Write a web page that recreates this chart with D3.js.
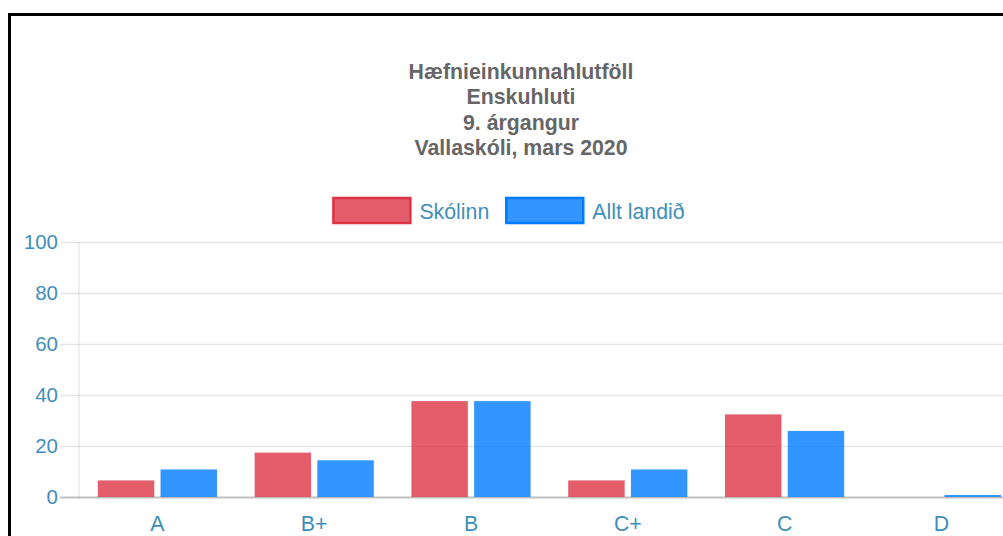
<!DOCTYPE html>
<html>
<head>
<meta charset="utf-8">
<script src="https://cdn.jsdelivr.net/npm/d3@7"></script>
<style>
  html, body { margin: 0; padding: 0; background: #fff; overflow: hidden; }
  svg { display: block; font-family: "Liberation Sans", Arial, Helvetica, sans-serif; }
</style>
</head>
<body>
<svg id="chart" width="1003" height="536"></svg>
<script>
// Grade distribution data
const categories = ["A", "B+", "B", "C+", "C", "D"];
const seriesNames = ["Skólinn", "Allt landið"];
const schoolValues = [6.5, 17.4, 37.6, 6.5, 32.4, 0];
const nationalValues = [10.8, 14.4, 37.6, 10.8, 25.9, 0.8];
const yTicks = [0, 20, 40, 60, 80, 100];
const titleLines = ["Hæfnieinkunnahlutföll", "Enskuhluti", "9. árgangur", "Vallaskóli, mars 2020"];

const fills = ["rgba(220,53,69,0.8)", "rgba(0,123,255,0.8)"];
const strokes = ["rgb(220,53,69)", "rgb(0,123,255)"];
const labelColor = "#3f8fba";

const svg = d3.select("#chart");
const W = 1003, H = 536;
svg.append("rect").attr("width", W).attr("height", H).attr("fill", "#fff");

// Frame border (top and left edges visible)
svg.append("path")
  .attr("d", `M9.5,${H} L9.5,14.5 L${W},14.5`)
  .attr("fill", "none").attr("stroke", "#000").attr("stroke-width", 3);

// Plot area
const plot = { left: 79, right: 79 + 6 * 156.8, top: 242, bottom: 497 };

const x = d3.scaleBand().domain(categories).range([plot.left, plot.right]).padding(0);
const xs = d3.scaleBand().domain(seriesNames)
  .range([x.step() * 0.1, x.step() * 0.9])
  .paddingInner(0.1).paddingOuter(0.05);
const y = d3.scaleLinear().domain([0, 100]).range([plot.bottom, plot.top]);

// Title
const title = svg.append("text")
  .attr("text-anchor", "middle")
  .attr("font-weight", "bold")
  .attr("font-size", 21.3)
  .attr("fill", "#666");
titleLines.forEach((line, i) => {
  title.append("tspan").attr("x", 521).attr("y", 78.5 + i * 25.6).text(line);
});

// Legend
const legend = svg.append("g");
const boxW = 77, boxH = 25, textGap = 9, itemGap = 17;
const items = legend.selectAll("g").data(seriesNames).join("g");
items.append("rect")
  .attr("width", boxW).attr("height", boxH)
  .attr("fill", (d, i) => fills[i])
  .attr("stroke", (d, i) => strokes[i])
  .attr("stroke-width", 2.5);
items.append("text")
  .attr("x", boxW + textGap).attr("y", 20.5)
  .attr("font-size", 21.3).attr("fill", labelColor)
  .text(d => d);
const widths = [];
items.each(function () {
  const tw = d3.select(this).select("text").node().getComputedTextLength();
  widths.push(boxW + textGap + tw);
});
const total = d3.sum(widths) + itemGap * (widths.length - 1);
let lx = 509 - total / 2;
items.attr("transform", (d, i) => {
  const t = `translate(${lx},${198})`;
  lx += widths[i] + itemGap;
  return t;
});

// Horizontal gridlines, extended left past the axis as tick marks
const gy = svg.append("g")
  .attr("transform", `translate(${plot.right},0)`)
  .call(d3.axisLeft(y).tickValues(yTicks).tickSize(plot.right - plot.left + 19).tickFormat(""));
gy.select(".domain").remove();
gy.selectAll(".tick line")
  .attr("stroke", d => d === 0 ? "rgba(0,0,0,0.25)" : "rgba(0,0,0,0.1)")
  .attr("stroke-width", d => d === 0 ? 2 : 1.3);

// Y tick labels
const gyl = svg.append("g")
  .attr("transform", `translate(${plot.left - 19},0)`)
  .call(d3.axisLeft(y).tickValues(yTicks).tickSize(0).tickPadding(2).tickFormat(d3.format("d")));
gyl.select(".domain").remove();
gyl.selectAll(".tick text")
  .attr("font-family", null)
  .attr("font-size", 20.5)
  .attr("fill", labelColor)
  .attr("dy", "0.3em");

// Vertical axis line
svg.append("line")
  .attr("x1", plot.left).attr("x2", plot.left)
  .attr("y1", plot.top).attr("y2", plot.bottom)
  .attr("stroke", "rgba(0,0,0,0.1)").attr("stroke-width", 1.3);

// Bars
const series = [schoolValues, nationalValues];
const groups = svg.append("g").selectAll("g")
  .data(categories).join("g")
  .attr("transform", d => `translate(${x(d)},0)`);
groups.selectAll("rect")
  .data((c, ci) => seriesNames.map((s, si) => ({ s, si, v: series[si][ci] })))
  .join("rect")
  .attr("x", d => xs(d.s))
  .attr("width", xs.bandwidth())
  .attr("y", d => y(d.v))
  .attr("height", d => y(0) - y(d.v))
  .attr("fill", d => fills[d.si]);

// X tick labels
const gx = svg.append("g")
  .attr("transform", `translate(0,${plot.bottom})`)
  .call(d3.axisBottom(x).tickSize(0).tickPadding(19));
gx.select(".domain").remove();
gx.selectAll(".tick text")
  .attr("font-family", null)
  .attr("font-size", 21.3)
  .attr("fill", labelColor);
</script>
</body>
</html>
